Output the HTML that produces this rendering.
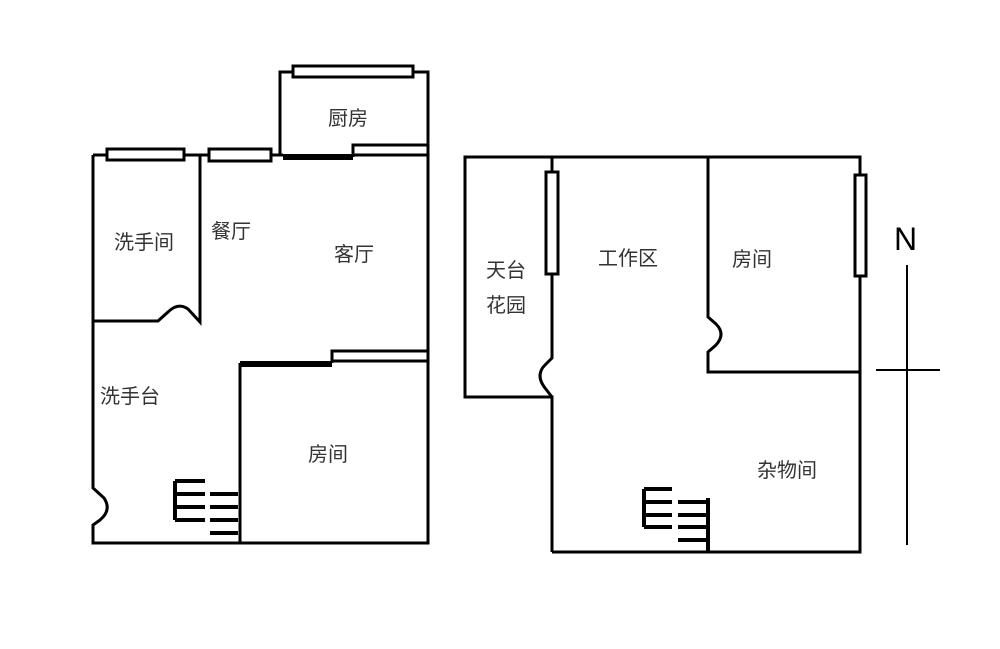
<!DOCTYPE html>
<html><head><meta charset="utf-8"><style>
html,body{margin:0;padding:0;background:#fff;}
svg text{font-family:"Liberation Sans","Noto Sans CJK SC",sans-serif;font-size:20px;fill:#333;}
</style></head><body>
<svg width="1000" height="644" viewBox="0 0 1000 644" xmlns="http://www.w3.org/2000/svg">
<g fill="none" stroke="#000" stroke-width="3">
<path d="M93,155 H107 M184,155 H209 M271,155 H283"/>
<rect x="107" y="149" width="77" height="11" fill="#fff"/>
<rect x="209" y="149" width="62" height="12" fill="#fff"/>
<path d="M280,155 V72 H293 M413,72 H428 V543 H93 V525 L100,520 Q112,510 104,498 L93,488 V155"/>
<rect x="293" y="66" width="120" height="11" fill="#fff"/>
<path d="M353,157 V145 H428 M353,155 H428"/>
<path d="M200,155 V322 L188,309 Q178,302 168,312 L158,321 H93"/>
<path d="M240,543 V363 M332,363 V351 H428 M332,361 H428"/>
<path d="M552,552 H860 V157 H465 V397 H552 V552"/>
<path d="M552,157 V172 M552,274 V358 L545,365 Q535,375 545,388 L552,397"/>
<rect x="546" y="172" width="12" height="102" fill="#fff"/>
<rect x="855" y="175" width="11" height="101" fill="#fff"/>
<path d="M708,157 V317 L716,324 Q726,334 716,345 L708,352 V372 H860"/>
<path d="M907,265 V545 M876,370 H940" stroke-width="2"/>
</g>
<g stroke="#000" stroke-width="6" fill="none">
<path d="M283,157 H353"/>
<path d="M240,364 H332"/>
</g>
<g stroke="#000" stroke-width="4" fill="none">
<path d="M175,481 V520 M175,481 H205 M175,494 H205 M175,507 H205 M175,520 H205"/>
<path d="M210,494 H238 M210,507 H238 M210,520 H238 M210,533 H238"/>
<path d="M644,489 V527 M644,489 H672 M644,502 H672 M644,515 H672 M644,527 H672"/>
<path d="M708,498 V552 M678,502 H708 M678,515 H708 M678,527 H708 M678,540 H708"/>
</g>
<text x="328" y="125">厨房</text>
<text x="114" y="249">洗手间</text>
<text x="211" y="238">餐厅</text>
<text x="334" y="261">客厅</text>
<text x="100" y="403">洗手台</text>
<text x="308" y="461">房间</text>
<text x="486" y="277">天台</text>
<text x="486" y="312">花园</text>
<text x="598" y="265">工作区</text>
<text x="732" y="266">房间</text>
<text x="757" y="477">杂物间</text>
<text x="894" y="250" style="font-size:32px;fill:#000">N</text>
</svg>
</body></html>
